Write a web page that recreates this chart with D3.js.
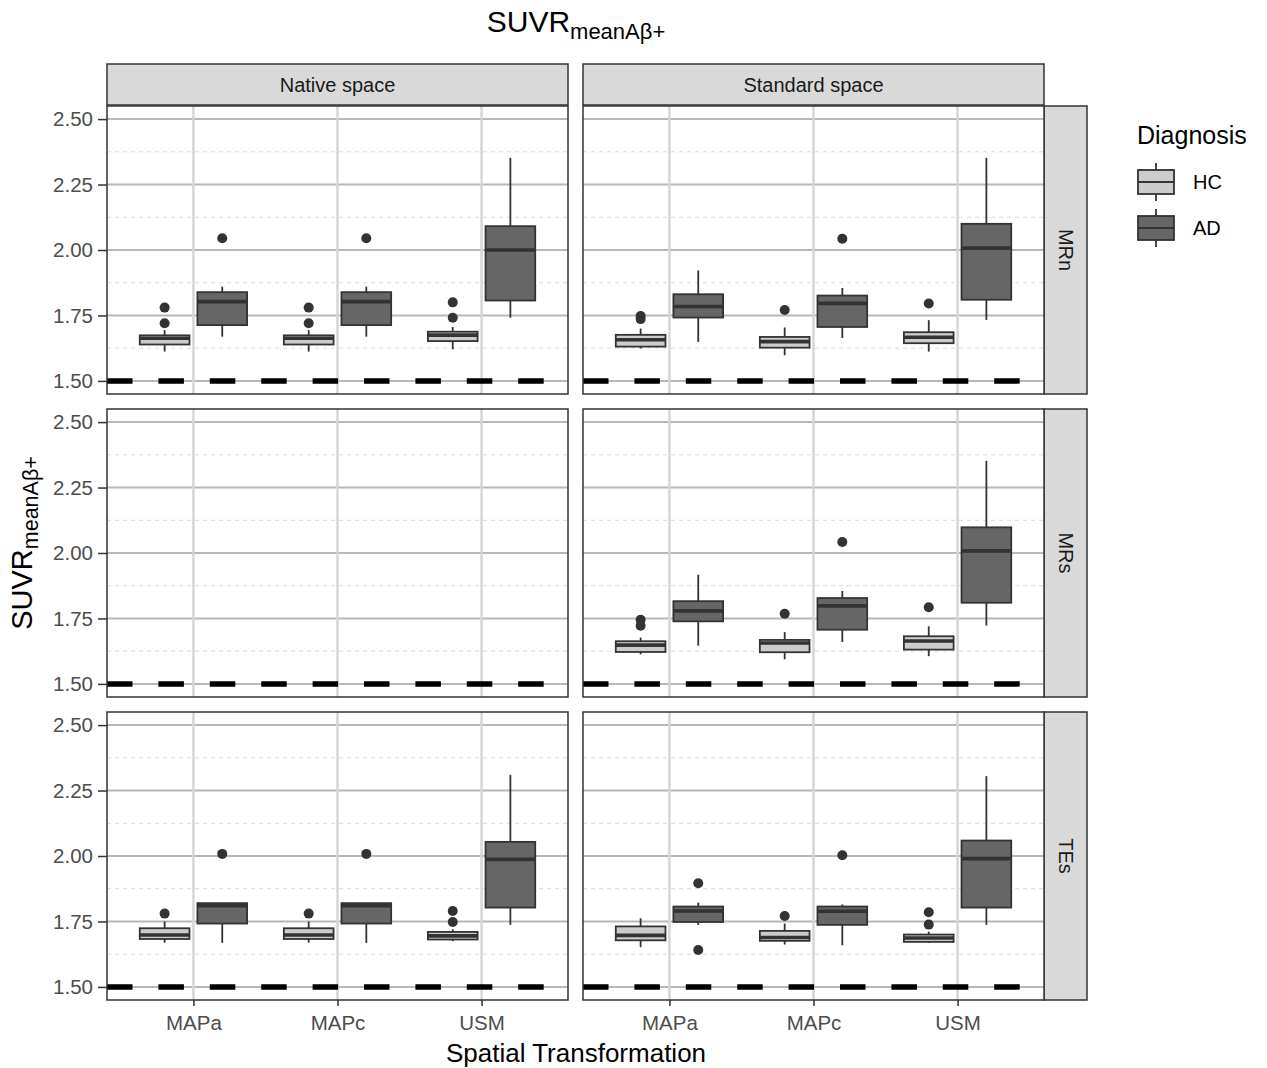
<!DOCTYPE html>
<html><head><meta charset="utf-8">
<script src="https://cdn.jsdelivr.net/npm/d3@7"></script>
<style>body{margin:0;background:#fff}svg{display:block;font-family:"Liberation Sans",Arial,sans-serif}</style>
</head><body>
<script>
const spaces = ["Native space", "Standard space"];
const references = ["MRn", "MRs", "TEs"];
const transforms = ["MAPa", "MAPc", "USM"];
const diagnoses = ["HC", "AD"];
const yTicks = [1.5, 1.75, 2.0, 2.25, 2.5];
const yMinor = [1.625, 1.875, 2.125, 2.375];
const refLine = 1.5;

// box stats per transform: [lowerWhisker, q1, median, q3, upperWhisker]
const nativeMRnHC = [[1.612,1.639,1.663,1.674,1.694],[1.612,1.639,1.663,1.674,1.694],[1.621,1.652,1.675,1.688,1.706]];
const nativeMRnHCout = [[1.72,1.78],[1.72,1.78],[1.741,1.80]];
const nativeMRnAD = [[1.669,1.713,1.803,1.839,1.860],[1.669,1.713,1.803,1.839,1.860],[1.741,1.807,2.0,2.091,2.352]];
const nativeMRnADout = [[2.045],[2.045],[]];

const standardMRnHC = [[1.624,1.631,1.657,1.676,1.70],[1.598,1.627,1.65,1.668,1.704],[1.612,1.644,1.667,1.686,1.732]];
const standardMRnHCout = [[1.736,1.748],[1.771],[1.796]];
const standardMRnAD = [[1.649,1.742,1.784,1.831,1.922],[1.664,1.706,1.796,1.826,1.855],[1.733,1.81,2.007,2.10,2.352]];
const standardMRnADout = [[],[2.043],[]];

const standardMRsHC = [[1.613,1.622,1.648,1.663,1.677],[1.594,1.621,1.656,1.668,1.698],[1.606,1.631,1.664,1.682,1.72]];
const standardMRsHCout = [[1.722,1.745],[1.768],[1.793]];
const standardMRsAD = [[1.646,1.739,1.779,1.816,1.917],[1.66,1.707,1.798,1.828,1.855],[1.723,1.81,2.008,2.098,2.352]];
const standardMRsADout = [[],[2.042],[]];

const nativeTEsHC = [[1.669,1.683,1.698,1.724,1.75],[1.669,1.683,1.698,1.724,1.75],[1.675,1.681,1.695,1.71,1.72]];
const nativeTEsHCout = [[1.78],[1.78],[1.748,1.79]];
const nativeTEsAD = [[1.668,1.742,1.81,1.82,1.82],[1.668,1.742,1.81,1.82,1.82],[1.737,1.803,1.987,2.054,2.31]];
const nativeTEsADout = [[2.008],[2.008],[]];

const standardTEsHC = [[1.652,1.678,1.697,1.731,1.762],[1.662,1.676,1.689,1.714,1.742],[1.668,1.672,1.687,1.70,1.711]];
const standardTEsHCout = [[],[1.771],[1.738,1.785]];
const standardTEsAD = [[1.737,1.748,1.79,1.807,1.822],[1.659,1.737,1.789,1.807,1.815],[1.737,1.803,1.99,2.059,2.305]];
const standardTEsADout = [[1.641,1.896],[2.003],[]];

const panelData = {
  "Native space|MRn": {HC:[nativeMRnHC,nativeMRnHCout], AD:[nativeMRnAD,nativeMRnADout]},
  "Standard space|MRn": {HC:[standardMRnHC,standardMRnHCout], AD:[standardMRnAD,standardMRnADout]},
  "Native space|MRs": null,
  "Standard space|MRs": {HC:[standardMRsHC,standardMRsHCout], AD:[standardMRsAD,standardMRsADout]},
  "Native space|TEs": {HC:[nativeTEsHC,nativeTEsHCout], AD:[nativeTEsAD,nativeTEsADout]},
  "Standard space|TEs": {HC:[standardTEsHC,standardTEsHCout], AD:[standardTEsAD,standardTEsADout]}
};

const fills = {HC: "#cccccc", AD: "#666666"};
const W = 1267, H = 1068;
const colX = [107, 583], panelW = 461;
const rowY = [106, 409, 712], panelH = 288;
const stripTop = 64, stripH = 41, rStripW = 43;
const dark = "#333333";

const svg = d3.select("body").append("svg").attr("width", W).attr("height", H);

const x = d3.scalePoint().domain(transforms).range([0, panelW]).padding(0.6);
const step = x.step();
const y = d3.scaleLinear().domain([1.45, 2.55]).range([panelH, 0]);
const dodge = d3.scaleBand().domain(diagnoses).range([-0.38*step, 0.38*step]).paddingInner(0.1);
const boxW = 0.345*step;

// title
const title = svg.append("text").attr("x", 576).attr("y", 32).attr("text-anchor", "middle").attr("fill", "#000");
title.append("tspan").attr("font-size", 30).text("SUVR");
title.append("tspan").attr("font-size", 22).attr("dy", 7).text("meanAβ+");

// y axis title
const yt = svg.append("text").attr("transform", `translate(32,543) rotate(-90)`).attr("text-anchor", "middle");
yt.append("tspan").attr("font-size", 29).text("SUVR");
yt.append("tspan").attr("font-size", 21.5).attr("dy", 6).text("meanAβ+");

// x title
svg.append("text").attr("x", 576).attr("y", 1062).attr("text-anchor", "middle").attr("font-size", 26).text("Spatial Transformation");

// column strips
spaces.forEach((s, ci) => {
  const g = svg.append("g").attr("transform", `translate(${colX[ci]},${stripTop})`);
  g.append("rect").attr("width", panelW).attr("height", stripH).attr("fill", "#d9d9d9").attr("stroke", dark).attr("stroke-width", 1.5);
  g.append("text").attr("x", panelW/2).attr("y", stripH/2 + 7).attr("text-anchor", "middle").attr("font-size", 20).attr("fill", "#1a1a1a").text(s);
});

references.forEach((r, ri) => {
  const gs = svg.append("g").attr("transform", `translate(${colX[1]+panelW},${rowY[ri]})`);
  gs.append("rect").attr("width", rStripW).attr("height", panelH).attr("fill", "#d9d9d9").attr("stroke", dark).attr("stroke-width", 1.5);
  gs.append("text").attr("transform", `translate(${rStripW/2 - 7},${panelH/2}) rotate(90)`).attr("text-anchor", "middle").attr("font-size", 20).attr("fill", "#1a1a1a").text(r);

  spaces.forEach((s, ci) => {
    const g = svg.append("g").attr("transform", `translate(${colX[ci]},${rowY[ri]})`);
    g.append("rect").attr("width", panelW).attr("height", panelH).attr("fill", "#fff");
    // minor grid
    g.selectAll(".minor").data(yMinor).join("line").attr("x1", 0).attr("x2", panelW)
      .attr("y1", d => y(d)).attr("y2", d => y(d)).attr("stroke", "#d9d9d9").attr("stroke-width", 1).attr("stroke-dasharray", "4,4");
    // major horizontal
    g.selectAll(".major").data(yTicks).join("line").attr("x1", 0).attr("x2", panelW)
      .attr("y1", d => y(d)).attr("y2", d => y(d)).attr("stroke", "#b8b8b8").attr("stroke-width", 2);
    // vertical
    g.selectAll(".vmaj").data(transforms).join("line").attr("y1", 0).attr("y2", panelH)
      .attr("x1", d => x(d)).attr("x2", d => x(d)).attr("stroke", "#d6d6d6").attr("stroke-width", 2.5);

    const pd = panelData[s + "|" + r];
    if (pd) {
      diagnoses.forEach(dg => {
        const [stats, outs] = pd[dg];
        transforms.forEach((t, ti) => {
          const [lo, q1, med, q3, hi] = stats[ti];
          const cx = x(t) + dodge(dg) + dodge.bandwidth()/2;
          g.append("line").attr("x1", cx).attr("x2", cx).attr("y1", y(hi)).attr("y2", y(lo)).attr("stroke", dark).attr("stroke-width", 1.8);
          g.append("rect").attr("x", cx - boxW/2).attr("width", boxW).attr("y", y(q3)).attr("height", y(q1) - y(q3))
            .attr("fill", fills[dg]).attr("stroke", dark).attr("stroke-width", 1.8);
          g.append("line").attr("x1", cx - boxW/2).attr("x2", cx + boxW/2).attr("y1", y(med)).attr("y2", y(med)).attr("stroke", dark).attr("stroke-width", 3.6);
          outs[ti].forEach(o => {
            g.append("circle").attr("cx", cx).attr("cy", y(o)).attr("r", 5).attr("fill", dark);
          });
        });
      });
    }
    // reference dashed line
    g.append("line").attr("x1", 0).attr("x2", panelW).attr("y1", y(refLine)).attr("y2", y(refLine))
      .attr("stroke", "#000").attr("stroke-width", 5.5).attr("stroke-dasharray", "25.5,25.9");
    g.append("rect").attr("width", panelW).attr("height", panelH).attr("fill", "none").attr("stroke", dark).attr("stroke-width", 1.5);

    if (ci === 0) {
      const ax = d3.axisLeft(y).tickValues(yTicks).tickFormat(d3.format(".2f")).tickSize(9).tickPadding(5);
      const ag = g.append("g").call(ax);
      ag.select(".domain").remove();
      ag.selectAll(".tick line").attr("stroke", dark).attr("stroke-width", 1.5);
      ag.selectAll(".tick text").attr("font-size", 20.5).attr("fill", "#4d4d4d").attr("font-family", "Liberation Sans, Arial, sans-serif");
    }
    if (ri === 2) {
      const ax = d3.axisBottom(x).tickSize(6).tickPadding(9);
      const ag = g.append("g").attr("transform", `translate(0,${panelH})`).call(ax);
      ag.select(".domain").remove();
      ag.selectAll(".tick line").attr("stroke", dark).attr("stroke-width", 1.5);
      ag.selectAll(".tick text").attr("font-size", 20.5).attr("fill", "#4d4d4d").attr("font-family", "Liberation Sans, Arial, sans-serif");
    }
  });
});

// legend
svg.append("text").attr("x", 1137).attr("y", 144).attr("font-size", 25).attr("fill", "#000").text("Diagnosis");
diagnoses.forEach((dg, i) => {
  const cy = 182 + i*46;
  const g = svg.append("g");
  g.append("line").attr("x1", 1156).attr("x2", 1156).attr("y1", cy - 19).attr("y2", cy + 19).attr("stroke", dark).attr("stroke-width", 1.8);
  g.append("rect").attr("x", 1138).attr("y", cy - 12).attr("width", 36).attr("height", 24).attr("fill", fills[dg]).attr("stroke", dark).attr("stroke-width", 1.8);
  g.append("line").attr("x1", 1138).attr("x2", 1174).attr("y1", cy).attr("y2", cy).attr("stroke", dark).attr("stroke-width", 1.8);
  g.append("text").attr("x", 1193).attr("y", cy + 7).attr("font-size", 20).attr("fill", "#000").text(dg);
});
</script>
</body></html>
